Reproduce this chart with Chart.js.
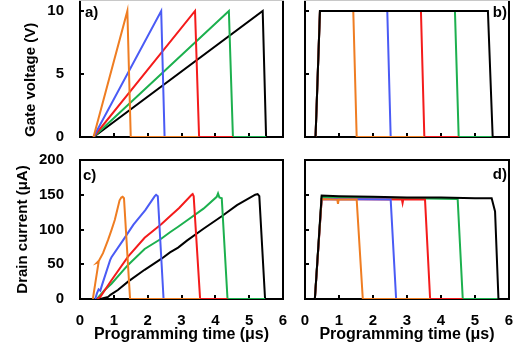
<!DOCTYPE html>
<html><head><meta charset="utf-8">
<script src="https://cdn.jsdelivr.net/npm/chart.js@4.4.1/dist/chart.umd.min.js"></script>
<style>
html,body{margin:0;padding:0;background:#fff;width:525px;height:348px;overflow:hidden;position:relative}
canvas{position:absolute}
</style></head><body>
<canvas id="ca" width="290" height="145" style="left:0;top:0;width:290px;height:145px"></canvas>
<canvas id="cb" width="235" height="145" style="left:290px;top:0;width:235px;height:145px"></canvas>
<canvas id="cc" width="290" height="198" style="left:0;top:150px;width:290px;height:198px"></canvas>
<canvas id="cd" width="235" height="198" style="left:290px;top:150px;width:235px;height:198px"></canvas>
<script>
// ---- tick labels ----
const timeTicks = [0, 1, 2, 3, 4, 5, 6];
const voltTicks = [0, 5, 10];
const currentTicks = [0, 50, 100, 150, 200];

// ---- a) gate voltage, ramps  [time µs, V] ----
const rampGateOrange = [[0.4,0],[1.4,10],[1.5,0],[3.5,0]];
const rampGateBlue   = [[0.4,0],[2.4,10],[2.5,0],[3.5,0]];
const rampGateRed    = [[0.4,0],[3.4,10],[3.52,0],[4.52,0]];
const rampGateGreen  = [[0.4,0],[4.4,10],[4.52,0],[5.5,0]];
const rampGateBlack  = [[0,0],[0.4,0],[5.4,10],[5.5,0],[6,0]];

// ---- b) gate voltage, pulses ----
const pulseGateOrange = [[0.31,0],[0.44,10],[1.42,10],[1.52,0],[3.51,0]];
const pulseGateBlue   = [[0.31,0],[0.44,10],[2.42,10],[2.52,0],[3.51,0]];
const pulseGateRed    = [[0.31,0],[0.44,10],[3.41,10],[3.51,0],[4.52,0]];
const pulseGateGreen  = [[0.31,0],[0.44,10],[4.41,10],[4.52,0],[5.52,0]];
const pulseGateBlack  = [[0,0],[0.31,0],[0.44,10],[5.38,10],[5.52,0],[6,0]];

// ---- c) drain current, ramps [time µs, µA] ----
const rampCurOrange = [[0.38,0],[0.45,22],[0.55,53],[0.5,52],[0.56,55],[0.68,66],[0.83,85],[0.93,99],[1.03,114],[1.1,128],[1.17,142],[1.22,146],[1.26,147],[1.3,145],[1.48,0],[3.55,0]];
const rampCurBlue   = [[0.45,0],[0.5,8],[0.55,14],[0.6,12],[0.65,20],[0.89,56],[0.93,60],[1.28,85],[1.58,107],[1.93,128],[2.21,148],[2.25,150],[2.3,148],[2.47,0],[3.55,0]];
const rampCurRed    = [[0.5,0],[0.6,3],[0.93,27],[1.42,61],[1.91,88],[2.41,108],[2.66,119],[2.93,131],[3.3,150],[3.33,151],[3.36,148],[3.55,0],[4.36,0]];
const rampCurGreen  = [[0.5,0],[0.73,13],[0.93,22],[1.42,49],[1.91,72],[2.41,87],[2.66,96],[2.9,104],[3.16,113],[3.65,130],[4.04,147],[4.08,152],[4.12,146],[4.19,145],[4.36,0],[5.47,0]];
const rampCurBlack  = [[0,0],[0.6,0],[0.83,3],[0.9,6],[1.12,13],[1.42,25],[1.91,42],[2.41,58],[2.66,67],[2.9,74],[3.16,84],[3.65,101],[4.19,119],[4.64,135],[5.18,150],[5.25,151],[5.3,148],[5.47,0],[6,0]];

// ---- d) drain current, pulses ----
const pulseCurOrange = [[0.29,0],[0.49,144],[0.95,143],[0.97,137],[0.99,143],[1.52,143],[1.7,0],[3.68,0]];
const pulseCurBlue   = [[0.29,0],[0.49,144],[2.52,143],[2.68,0],[3.68,0]];
const pulseCurRed    = [[0.29,0],[0.49,144],[2.85,143],[2.87,138],[2.89,143],[3.53,143],[3.68,0],[4.64,0]];
const pulseCurGreen  = [[0.29,0],[0.49,147],[4.49,144],[4.64,0],[5.69,0]];
const pulseCurBlack  = [[0,0],[0.29,0],[0.49,149],[1,148],[2,147],[3,146],[4,146],[5,145],[5.49,145],[5.59,126],[5.69,0],[6,0]];

const COL = {orange:'#ef7d22', blue:'#4a5bf5', red:'#f41b1b', green:'#1cb04e', black:'#000000'};
const FONT = '"Liberation Sans", Arial, sans-serif';
Chart.defaults.font.family = FONT;
Chart.defaults.color = '#000';

function ds(arr, color) {
  return {data: arr.map(([x, y]) => ({x, y})), borderColor: color, borderWidth: 2,
          pointRadius: 0, tension: 0, fill: false};
}
function zeroPad(s) { s.paddingTop = 0; s.paddingBottom = 0; s.paddingLeft = 0; s.paddingRight = 0; }

const framePlugin = {
  id: 'frame',
  beforeDatasetsDraw(chart, args, o) {
    const {ctx, chartArea: a} = chart;
    const xs = chart.scales.x, ys = chart.scales.y;
    ctx.save();
    ctx.lineWidth = 2;
    ctx.strokeStyle = '#000';
    ctx.beginPath();
    ctx.moveTo(a.left, a.top); ctx.lineTo(a.left, a.bottom); ctx.lineTo(a.right, a.bottom); ctx.lineTo(a.right, a.top);
    ctx.stroke();
    ctx.strokeStyle = o.topColor || '#000';
    ctx.beginPath(); ctx.moveTo(a.left - 1, a.top); ctx.lineTo(a.right + 1, a.top); ctx.stroke();
    ctx.strokeStyle = '#000';
    ctx.beginPath();
    xs.ticks.forEach(t => {
      if (t.value <= xs.min || t.value >= xs.max) return;
      const px = Math.round(xs.getPixelForValue(t.value));
      ctx.moveTo(px, a.bottom); ctx.lineTo(px, a.bottom - 4);
    });
    ys.ticks.forEach(t => {
      if (t.value <= ys.min || t.value >= ys.max) return;
      const py = Math.round(ys.getPixelForValue(t.value));
      ctx.moveTo(a.left, py); ctx.lineTo(a.left + 4, py);
    });
    ctx.stroke();
    ctx.restore();
  },
  afterDatasetsDraw(chart, args, o) {
    const {ctx} = chart;
    ctx.save();
    ctx.font = 'bold 15px ' + FONT;
    ctx.fillStyle = '#000';
    ctx.textAlign = o.align;
    ctx.textBaseline = 'middle';
    ctx.fillText(o.label, o.lx, o.ly);
    ctx.restore();
  }
};

function build(id, c) {
  return new Chart(document.getElementById(id), {
    type: 'line',
    data: {datasets: c.series.map(s => ds(s[0], s[1]))},
    plugins: [framePlugin],
    options: {
      responsive: false, animation: false, devicePixelRatio: 1,
      layout: {padding: c.pad},
      plugins: {legend: {display: false}, tooltip: {enabled: false},
        frame: {label: c.label, lx: c.lx, ly: c.ly, align: c.align, topColor: c.topColor}},
      scales: {
        x: {type: 'linear', min: 0, max: 6,
          afterBuildTicks: s => { s.ticks = timeTicks.map(v => ({value: v})); },
          ticks: {display: c.showX, padding: 13, autoSkip: false, maxRotation: 0, color: '#000',
                  font: {size: 15, weight: 'bold'}},
          grid: {display: false, drawTicks: false}, border: {display: false},
          title: {display: c.showX, text: 'Programming time (μs)', color: '#000',
                  font: {size: 16, weight: 'bold'}, padding: {top: 0, bottom: 4}},
          afterFit: s => { s.height = c.xH; zeroPad(s); }
        },
        y: {type: 'linear', min: 0, max: c.yMax,
          afterBuildTicks: s => { s.ticks = c.yTicks.map(v => ({value: v})); },
          ticks: {display: c.showY, padding: 16, autoSkip: false, color: '#000',
                  font: {size: 15, weight: 'bold'}},
          grid: {display: false, drawTicks: false}, border: {display: false},
          title: {display: !!c.yTitle, text: c.yTitle || '', align: c.yAlign || 'center', color: '#000',
                  font: {size: 15, weight: 'bold'}, padding: {top: c.yTitlePad || 0, bottom: 0}},
          afterFit: s => { s.width = c.yW; zeroPad(s); }
        }
      }
    }
  });
}

build('ca', {
  series: [[rampGateOrange, COL.orange], [rampGateBlue, COL.blue], [rampGateRed, COL.red], [rampGateGreen, COL.green], [rampGateBlack, COL.black]],
  yMax: 10.87, yTicks: voltTicks, showX: false, showY: true,
  yTitle: 'Gate voltage (V)', yAlign: 'start', yTitlePad: 22,
  yW: 80, xH: 8, pad: {left: 0, top: 0, right: 7, bottom: 0},
  label: 'a)', lx: 85, ly: 13, align: 'left', topColor: '#c8c8c8'
});
build('cb', {
  series: [[pulseGateBlack, COL.black], [pulseGateOrange, COL.orange], [pulseGateBlue, COL.blue], [pulseGateRed, COL.red], [pulseGateGreen, COL.green]],
  yMax: 10.87, yTicks: voltTicks, showX: false, showY: false,
  yW: 15, xH: 8, pad: {left: 0, top: 0, right: 16, bottom: 0},
  label: 'b)', lx: 217, ly: 13, align: 'right', topColor: '#c8c8c8'
});
build('cc', {
  series: [[rampCurOrange, COL.orange], [rampCurBlue, COL.blue], [rampCurRed, COL.red], [rampCurGreen, COL.green], [rampCurBlack, COL.black]],
  yMax: 200, yTicks: currentTicks, showX: true, showY: true,
  yTitle: 'Drain current (μA)', yAlign: 'center', yTitlePad: 14,
  yW: 80, xH: 49, pad: {left: 0, top: 10, right: 7, bottom: 0},
  label: 'c)', lx: 83, ly: 26, align: 'left'
});
build('cd', {
  series: [[pulseCurBlack, COL.black], [pulseCurOrange, COL.orange], [pulseCurBlue, COL.blue], [pulseCurRed, COL.red], [pulseCurGreen, COL.green]],
  yMax: 200, yTicks: currentTicks, showX: true, showY: false,
  yW: 15, xH: 49, pad: {left: 0, top: 10, right: 16, bottom: 0},
  label: 'd)', lx: 217, ly: 25, align: 'right'
});
</script>
</body></html>
